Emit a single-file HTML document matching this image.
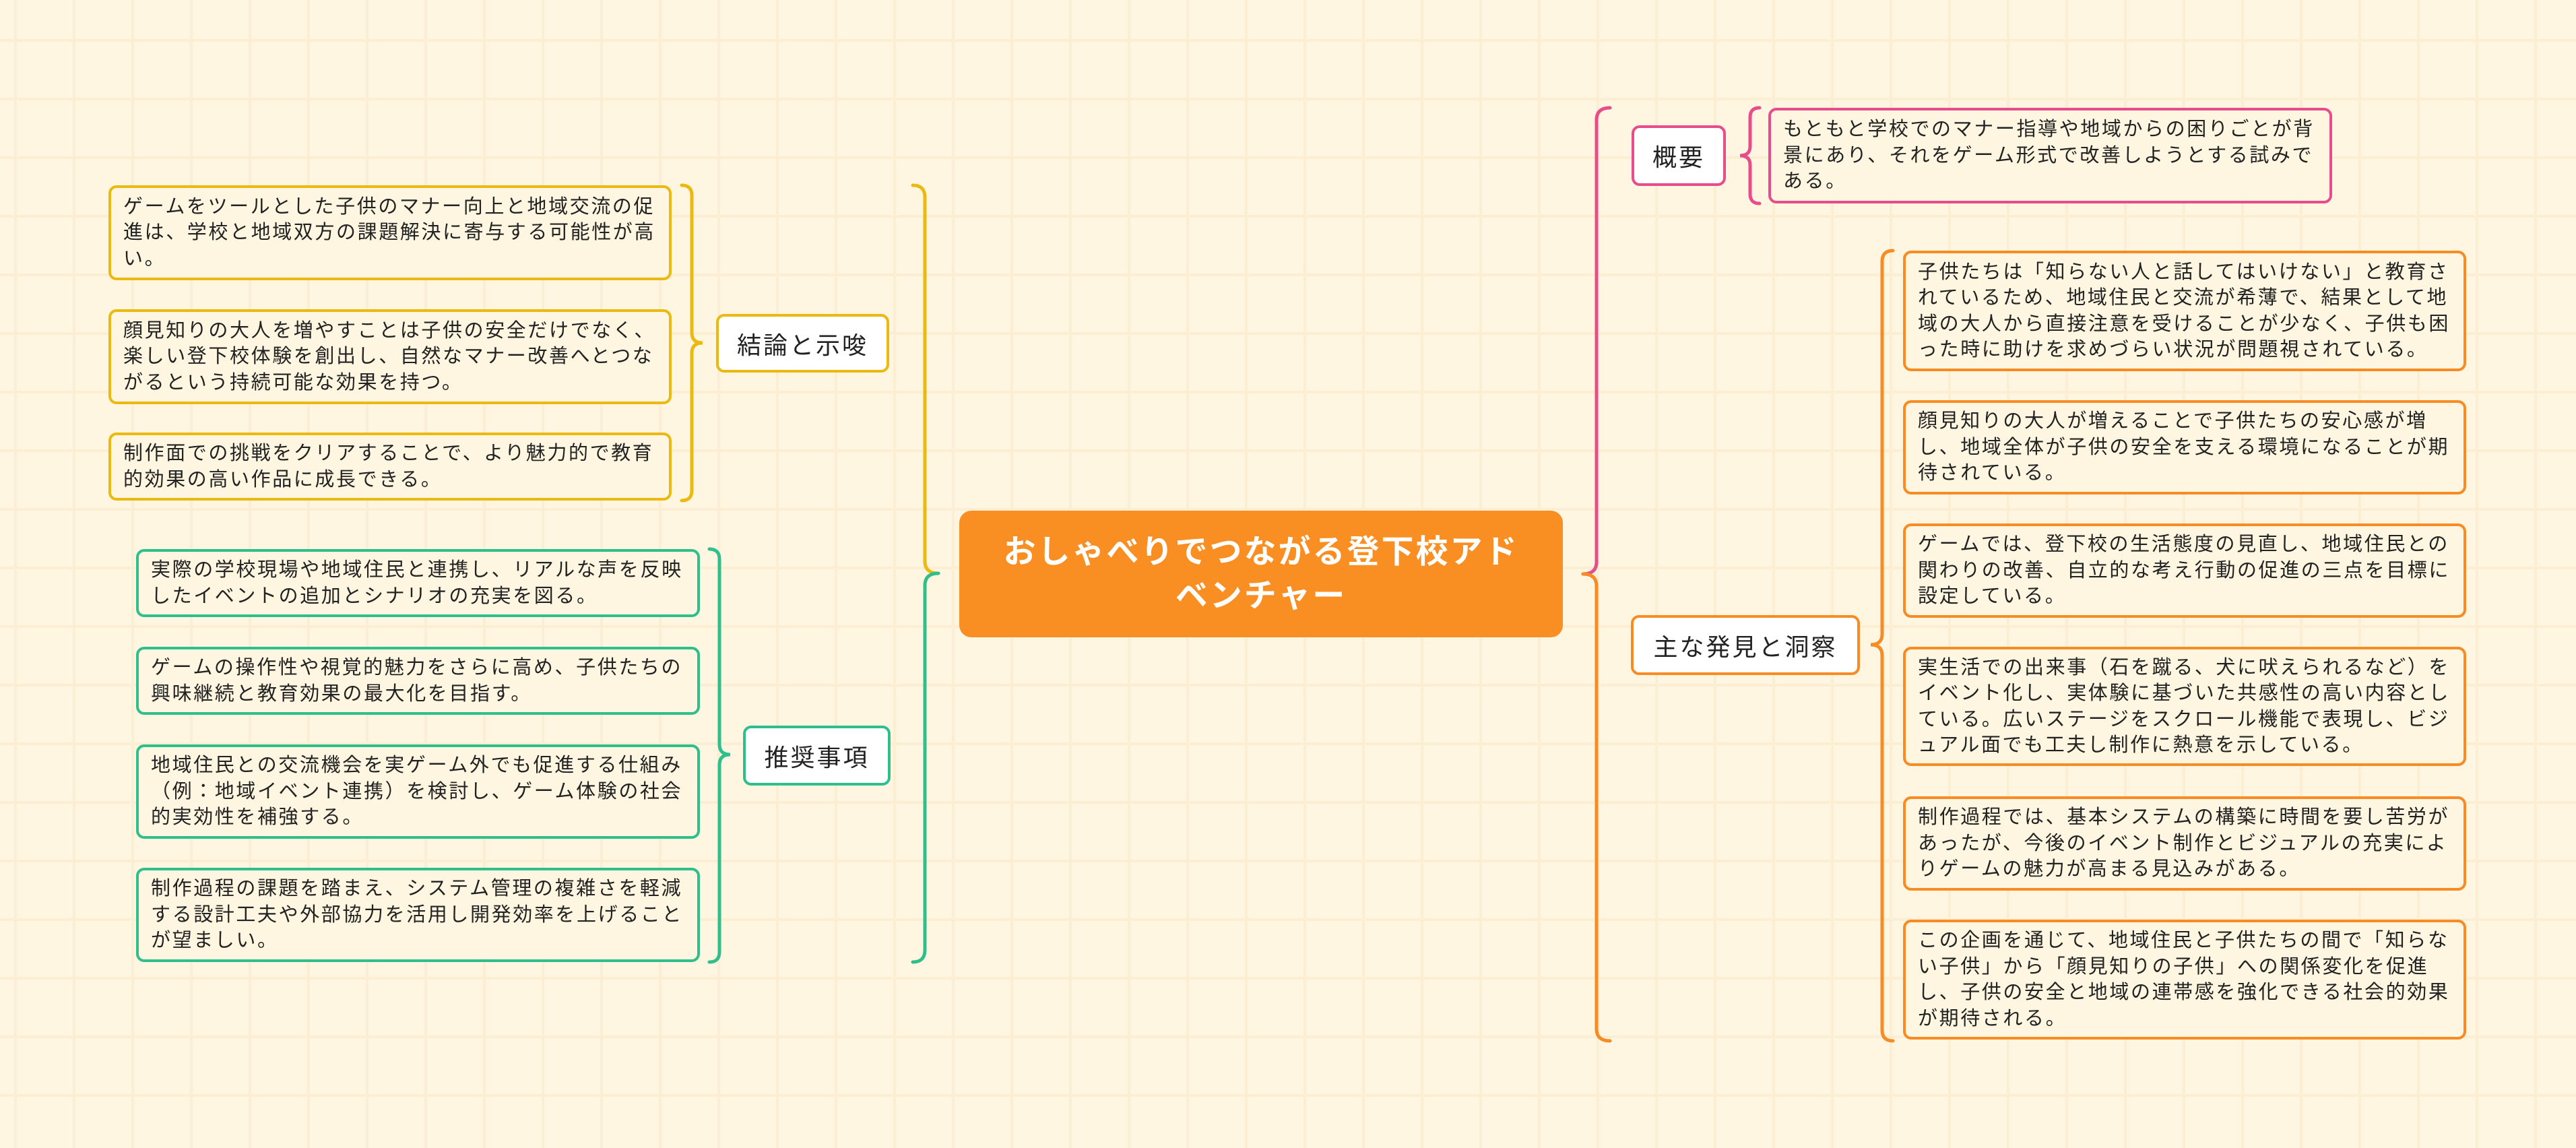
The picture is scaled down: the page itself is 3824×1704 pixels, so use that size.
<!DOCTYPE html>
<html><head><meta charset="utf-8"><style>
html,body{margin:0;padding:0}
body{width:3824px;height:1704px;position:relative;overflow:hidden;background-color:#fef6e0;
background-image:linear-gradient(#fbeed2 4px,transparent 4px),linear-gradient(90deg,#fbeed2 4px,transparent 4px);
background-size:87px 87px;background-position:21px 58px;font-family:"Liberation Sans","Noto Sans CJK JP",sans-serif;color:#222}
.b{position:absolute;box-sizing:border-box;border:4px solid;border-radius:12px;display:flex;align-items:center;padding:0 0 0 18px;font-size:29px;letter-spacing:2.6px;line-height:38.5px;white-space:nowrap;background:#fef6e0}
.m{position:absolute;box-sizing:border-box;border:4px solid;border-radius:12px;background:#fff;display:flex;align-items:center;justify-content:center;font-size:36px;letter-spacing:3px;white-space:nowrap}
.y{border-color:#ebb90f}.g{border-color:#2fbf8c}.p{border-color:#e94c8b}.o{border-color:#f78b24}
svg{position:absolute;left:0;top:0}
</style></head><body>
<svg width="3824" height="1704" fill="none" stroke-width="5" stroke-linecap="round">
<path d="M1355,275 Q1373,275 1373,293 L1373,833 Q1373,851 1393,851" stroke="#ebb90f"/>
<path d="M1393,851 Q1373,851 1373,869 L1373,1410 Q1373,1428 1355,1428" stroke="#2fbf8c"/>
<path d="M2390,160 Q2370,160 2370,178 L2370,834 Q2370,852 2350,852" stroke="#e94c8b"/>
<path d="M2350,852 Q2370,852 2370,870 L2370,1527 Q2370,1545 2390,1545" stroke="#f78b24"/>
<path d="M1012,275 Q1027,275 1027,290 L1027,494 Q1027,509 1043,509 Q1027,509 1027,524 L1027,728 Q1027,743 1012,743" stroke="#ebb90f"/>
<path d="M1053,815 Q1068,815 1068,830 L1068,1105 Q1068,1120 1084,1120 Q1068,1120 1068,1135 L1068,1413 Q1068,1428 1053,1428" stroke="#2fbf8c"/>
<path d="M2612,160 Q2598,160 2598,174 L2598,217 Q2598,231 2583,231 Q2598,231 2598,245 L2598,288 Q2598,302 2612,302" stroke="#e94c8b"/>
<path d="M2810,372 Q2794,372 2794,388 L2794,941 Q2794,957 2777,957 Q2794,957 2794,973 L2794,1529 Q2794,1545 2810,1545" stroke="#f78b24"/>
</svg>

<div style="position:absolute;left:1424px;top:758px;width:896px;height:188px;background:#f98e22;border-radius:18px;display:flex;align-items:center;justify-content:center;text-align:center;color:#fff;font-weight:bold;font-size:48px;letter-spacing:3px;line-height:65px">おしゃべりでつながる登下校アド<br>ベンチャー</div>

<div class="m y" style="left:1063px;top:466px;width:257px;height:87px">結論と示唆</div>
<div class="m g" style="left:1103px;top:1077px;width:219px;height:89px">推奨事項</div>
<div class="m p" style="left:2422px;top:186px;width:140px;height:90px">概要</div>
<div class="m o" style="left:2421px;top:913px;width:340px;height:89px">主な発見と洞察</div>

<div class="b y" style="left:161px;top:275px;width:836px;height:141px">ゲームをツールとした子供のマナー向上と地域交流の促<br>進は、学校と地域双方の課題解決に寄与する可能性が高<br>い。</div>
<div class="b y" style="left:161px;top:459px;width:836px;height:141px">顔見知りの大人を増やすことは子供の安全だけでなく、<br>楽しい登下校体験を創出し、自然なマナー改善へとつな<br>がるという持続可能な効果を持つ。</div>
<div class="b y" style="left:161px;top:642px;width:836px;height:101px">制作面での挑戦をクリアすることで、より魅力的で教育<br>的効果の高い作品に成長できる。</div>

<div class="b g" style="left:202px;top:815px;width:837px;height:101px">実際の学校現場や地域住民と連携し、リアルな声を反映<br>したイベントの追加とシナリオの充実を図る。</div>
<div class="b g" style="left:202px;top:960px;width:837px;height:101px">ゲームの操作性や視覚的魅力をさらに高め、子供たちの<br>興味継続と教育効果の最大化を目指す。</div>
<div class="b g" style="left:202px;top:1105px;width:837px;height:140px">地域住民との交流機会を実ゲーム外でも促進する仕組み<br>（例：地域イベント連携）を検討し、ゲーム体験の社会<br>的実効性を補強する。</div>
<div class="b g" style="left:202px;top:1288px;width:837px;height:140px">制作過程の課題を踏まえ、システム管理の複雑さを軽減<br>する設計工夫や外部協力を活用し開発効率を上げること<br>が望ましい。</div>

<div class="b p" style="left:2625px;top:160px;width:837px;height:142px">もともと学校でのマナー指導や地域からの困りごとが背<br>景にあり、それをゲーム形式で改善しようとする試みで<br>ある。</div>

<div class="b o" style="left:2825px;top:372px;width:836px;height:179px">子供たちは「知らない人と話してはいけない」と教育さ<br>れているため、地域住民と交流が希薄で、結果として地<br>域の大人から直接注意を受けることが少なく、子供も困<br>った時に助けを求めづらい状況が問題視されている。</div>
<div class="b o" style="left:2825px;top:594px;width:836px;height:140px">顔見知りの大人が増えることで子供たちの安心感が増<br>し、地域全体が子供の安全を支える環境になることが期<br>待されている。</div>
<div class="b o" style="left:2825px;top:777px;width:836px;height:140px">ゲームでは、登下校の生活態度の見直し、地域住民との<br>関わりの改善、自立的な考え行動の促進の三点を目標に<br>設定している。</div>
<div class="b o" style="left:2825px;top:960px;width:836px;height:177px">実生活での出来事（石を蹴る、犬に吠えられるなど）を<br>イベント化し、実体験に基づいた共感性の高い内容とし<br>ている。広いステージをスクロール機能で表現し、ビジ<br>ュアル面でも工夫し制作に熱意を示している。</div>
<div class="b o" style="left:2825px;top:1182px;width:836px;height:140px">制作過程では、基本システムの構築に時間を要し苦労が<br>あったが、今後のイベント制作とビジュアルの充実によ<br>りゲームの魅力が高まる見込みがある。</div>
<div class="b o" style="left:2825px;top:1365px;width:836px;height:178px">この企画を通じて、地域住民と子供たちの間で「知らな<br>い子供」から「顔見知りの子供」への関係変化を促進<br>し、子供の安全と地域の連帯感を強化できる社会的効果<br>が期待される。</div>
</body></html>
